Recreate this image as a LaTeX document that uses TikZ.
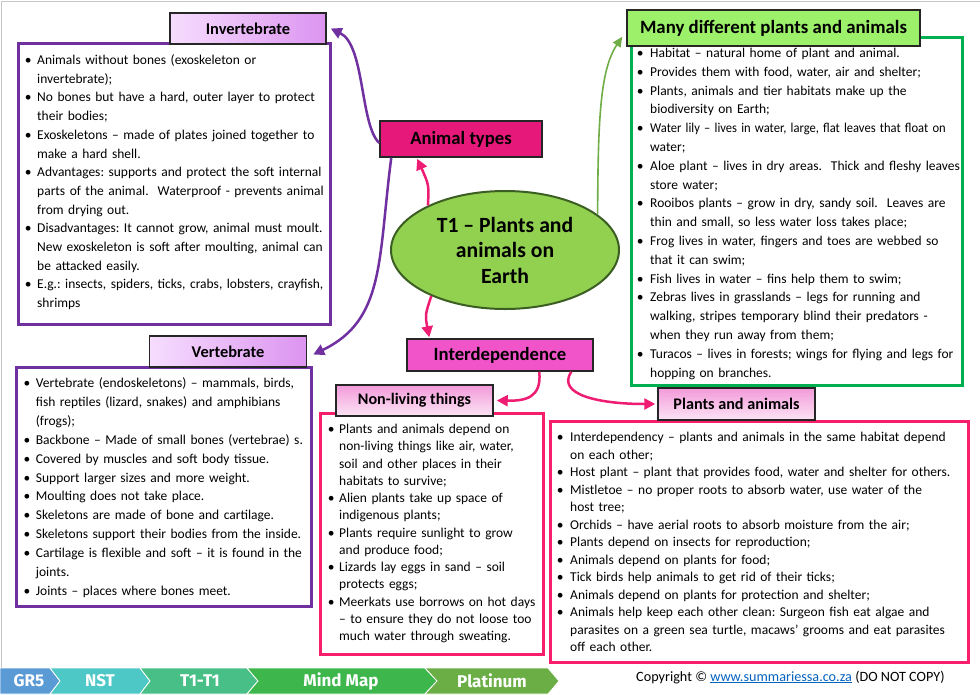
\documentclass[tikz,border=0pt]{standalone}
\usepackage{graphicx}
\usepackage{fontspec}
\setmainfont{Carlito}
\newfontfamily\bannerfont{Fira Sans}
\usetikzlibrary{arrows.meta,shapes.geometric,fit}
\definecolor{purp}{HTML}{7030A0}
\definecolor{pinkb}{HTML}{F71E6C}
\definecolor{arrpink}{HTML}{EE1C72}
\definecolor{grnb}{HTML}{00B050}
\definecolor{grnarr}{HTML}{70AD47}
\definecolor{ellfill}{HTML}{92D050}
\definecolor{elldraw}{HTML}{3B5E22}
\definecolor{atfill}{HTML}{E6197A}
\definecolor{idfill}{HTML}{F154C8}
\definecolor{mdfill}{HTML}{9DF06A}
\definecolor{invL}{HTML}{F6DDFE}
\definecolor{invR}{HTML}{DC94F0}
\definecolor{pkT}{HTML}{F29AD9}
\definecolor{pkB}{HTML}{FCE4F5}
\definecolor{linkblue}{HTML}{0563C1}
\definecolor{cgr}{HTML}{5B9BD5}
\definecolor{cnst}{HTML}{4EC8C6}
\definecolor{ctt}{HTML}{49BF88}
\definecolor{cmm}{HTML}{3DB64B}
\definecolor{cpl}{HTML}{6CAE46}
\frenchspacing
\newlength\hg
\newcommand{\fb}{\hangindent=\hg\hangafter=1\makebox[\hg][l]{\textbullet}\ignorespaces}
\newcommand{\bl}{\par\noindent\fb}
\newcommand{\brk}{\newline}
\tikzset{
  bigbox/.style={draw=#1, line width=3pt, inner sep=0pt, fill=white},
  hdr/.style={draw=black!85, line width=1.5pt, inner sep=0pt, font=\bfseries\fontsize{16.4}{18}\selectfont},
  txtbox/.style={anchor=base west, inner sep=0pt, align=left, text width=#1},
  pinkarrow/.style={draw=arrpink, line width=2.5pt, -{Triangle[length=11pt,width=11pt]}},
  purparrow/.style={draw=purp, line width=2.5pt, -{Triangle[length=11pt,width=11pt]}},
  greenarrow/.style={draw=grnarr, line width=1.6pt, -{Triangle[length=10pt,width=9pt]}},
  bannertxt/.style={text=white, inner sep=0pt, font=\bannerfont\bfseries\fontsize{17}{19}\selectfont},
  chev/.style={fill=#1, draw=white, line width=0.8pt}
}
\begin{document}
\begin{tikzpicture}[x=1pt,y=-1pt]
\useasboundingbox (0,0) rectangle (980,694);
\fill[white] (0,0) rectangle (980,694);
\draw[gray!45, line width=1pt] (1,694) -- (1,1.5) -- (980,1.5);

% big boxes
\node[bigbox=purp, fit={(18,43)(330,324)}] (invbox) {};
\node[bigbox=purp, fit={(16,367)(311,606)}] (vertbox) {};
\node[bigbox=pinkb, fit={(320,413)(543,654)}] (nlbox) {};
\node[bigbox=pinkb, fit={(550,421)(968,662)}] (pabox) {};
\node[bigbox=grnb, fit={(631,37)(962,385)}] (mdbox) {};

% headers
\node[hdr, left color=invL, right color=invR, minimum width=156, minimum height=31] (invhdr) at (248,28.5) {Invertebrate};
\node[hdr, left color=invL, right color=invR, minimum width=157, minimum height=31] (verthdr) at (228,351.5) {Vertebrate};
\node[hdr, top color=pkT, bottom color=pkB, minimum width=157, minimum height=31, font=\bfseries\fontsize{16.1}{18}\selectfont] (nlhdr) at (414.5,400.5) {Non-living things};
\node[hdr, top color=pkT, bottom color=pkB, minimum width=157, minimum height=32, font=\bfseries\fontsize{16.2}{18}\selectfont] (pahdr) at (736.5,404) {Plants and animals};
\node[hdr, fill=mdfill, minimum width=293, minimum height=36, font=\bfseries\fontsize{18.8}{20}\selectfont] (mdhdr) at (773.5,28) {Many different plants and animals};
\node[hdr, fill=atfill, minimum width=162, minimum height=36, font=\bfseries\fontsize{18.7}{20}\selectfont] (at) at (461,139) {Animal types};
\node[hdr, fill=idfill, minimum width=186, minimum height=32, font=\bfseries\fontsize{18.7}{20}\selectfont] (id) at (500,355) {Interdependence};

% central ellipse
\node[ellipse, draw=elldraw, line width=2pt, fill=ellfill, minimum width=228, minimum height=118, inner sep=0pt, align=center, font=\bfseries\fontsize{21.7}{25.5}\selectfont] (core) at (505,250) {T1 -- Plants and\\animals on\\Earth};

% connectors
\draw[purparrow] ([yshift=-4pt]at.west) .. controls (360,125) and (365,45) .. ([xshift=4pt]invhdr.east);
\draw[purparrow] ([xshift=12pt]at.south west) .. controls (378,260) and (385,320) .. ([xshift=6pt,yshift=-3pt]verthdr.east);
\draw[pinkarrow] (core.150) .. controls (429,185) .. ([xshift=38pt,yshift=-1pt]at.south west);
\draw[pinkarrow] (core.212) .. controls (425,315) .. ([xshift=23pt,yshift=1pt]id.north west);
\draw[greenarrow] (core.21) .. controls (598,120) and (600,70) .. ([xshift=-4pt,yshift=10pt]mdhdr.south west);
\draw[pinkarrow] ([xshift=133pt]id.south west) .. controls (542,398) and (525,401) .. ([xshift=3pt]nlhdr.east);
\draw[pinkarrow] ([xshift=165pt]id.south west) .. controls (556,395) and (600,404) .. ([xshift=-2pt]pahdr.west);

% texts
\node[txtbox=320, font={\fontsize{13.5}{18.7}\selectfont\setlength\hg{12.3pt}}] (invtxt) at (24.7,64.5) {%
\fb Animals without bones (exoskeleton or\brk invertebrate);
\bl No bones but have a hard, outer layer to protect\brk their bodies;
\bl Exoskeletons -- made of plates joined together to\brk make a hard shell.
\bl Advantages: supports and protect the soft internal\brk parts of the animal.~ Waterproof - prevents animal\brk from drying out.
\bl Disadvantages: It cannot grow, animal must moult.\brk New exoskeleton is soft after moulting, animal can\brk be attacked easily.
\bl E.g.: insects, spiders, ticks, crabs, lobsters, crayfish,\brk shrimps\par};

\node[txtbox=300, font={\fontsize{13.5}{18.9}\selectfont\setlength\hg{12.3pt}}] (verttxt) at (23.4,387.5) {%
\fb Vertebrate (endoskeletons) -- mammals, birds,\brk fish reptiles (lizard, snakes) and amphibians\brk (frogs);
\bl Backbone -- Made of small bones (vertebrae) s.
\bl Covered by muscles and soft body tissue.
\bl Support larger sizes and more weight.
\bl Moulting does not take place.
\bl Skeletons are made of bone and cartilage.
\bl Skeletons support their bodies from the inside.
\bl Cartilage is flexible and soft -- it is found in the\brk joints.
\bl Joints -- places where bones meet.\par};

\node[txtbox=225, font={\fontsize{13.5}{17.25}\selectfont\setlength\hg{11.3pt}}] (nltxt) at (327.7,433.5) {%
\fb Plants and animals depend on\brk non-living things like air, water,\brk soil and other places in their\brk habitats to survive;
\bl Alien plants take up space of\brk indigenous plants;
\bl Plants require sunlight to grow\brk and produce food;
\bl Lizards lay eggs in sand -- soil\brk protects eggs;
\bl Meerkats use borrows on hot days\brk -- to ensure they do not loose too\brk much water through sweating.\par};

\node[txtbox=420, font={\fontsize{13.5}{17.5}\selectfont\setlength\hg{13.3pt}}] (patxt) at (556.7,441.5) {%
\fb Interdependency -- plants and animals in the same habitat depend\brk on each other;
\bl Host plant -- plant that provides food, water and shelter for others.
\bl Mistletoe -- no proper roots to absorb water, use water of the\brk host tree;
\bl Orchids -- have aerial roots to absorb moisture from the air;
\bl Plants depend on insects for reproduction;
\bl Animals depend on plants for food;
\bl Tick birds help animals to get rid of their ticks;
\bl Animals depend on plants for protection and shelter;
\bl Animals help keep each other clean: Surgeon fish eat algae and\brk parasites on a green sea turtle, macaws’ grooms and eat parasites\brk off each other.\par};

\node[txtbox=335, font={\fontsize{13.5}{18.8}\selectfont\setlength\hg{13.3pt}}] (mdtxt) at (636.7,57.5) {%
\fb Habitat -- natural home of plant and animal.
\bl Provides them with food, water, air and shelter;
\bl Plants, animals and tier habitats make up the\brk biodiversity on Earth;
\bl \scalebox{0.93}[1]{Water lily -- lives in water, large, flat leaves that float on}\brk water;
\bl Aloe plant -- lives in dry areas.~ Thick and fleshy leaves\brk store water;
\bl Rooibos plants -- grow in dry, sandy soil.~ Leaves are\brk thin and small, so less water loss takes place;
\bl Frog lives in water, fingers and toes are webbed so\brk that it can swim;
\bl Fish lives in water -- fins help them to swim;
\bl Zebras lives in grasslands -- legs for running and\brk walking, stripes temporary blind their predators -\brk when they run away from them;
\bl Turacos -- lives in forests; wings for flying and legs for\brk hopping on branches.\par};

% bottom banner
\filldraw[chev=cgr] (0,668) -- (50,668) -- (60,681) -- (50,694) -- (0,694) -- cycle;
\filldraw[chev=cnst] (50,668) -- (140,668) -- (150,681) -- (140,694) -- (50,694) -- (60,681) -- cycle;
\filldraw[chev=ctt] (140,668) -- (247,668) -- (258,681) -- (247,694) -- (140,694) -- (150,681) -- cycle;
\filldraw[chev=cmm] (247,668) -- (425,668) -- (437,681) -- (425,694) -- (247,694) -- (258,681) -- cycle;
\filldraw[chev=cpl] (425,668) -- (548,668) -- (559,681) -- (548,694) -- (425,694) -- (437,681) -- cycle;
\node[bannertxt] (bgr) at (29,681) {GR5};
\node[bannertxt] (bnst) at (100,681) {NST};
\node[bannertxt] (btt) at (200,681) {T1-T1};
\node[bannertxt] (bmm) at (341,681) {Mind Map};
\node[bannertxt] (bpl) at (492,681) {Platinum};

\node[anchor=base west, inner sep=0pt, font=\fontsize{14.2}{16}\selectfont] (copy) at (636,681) {Copyright © \textcolor{linkblue}{\underline{www.summariessa.co.za}} (DO NOT COPY)};
\end{tikzpicture}
\end{document}
